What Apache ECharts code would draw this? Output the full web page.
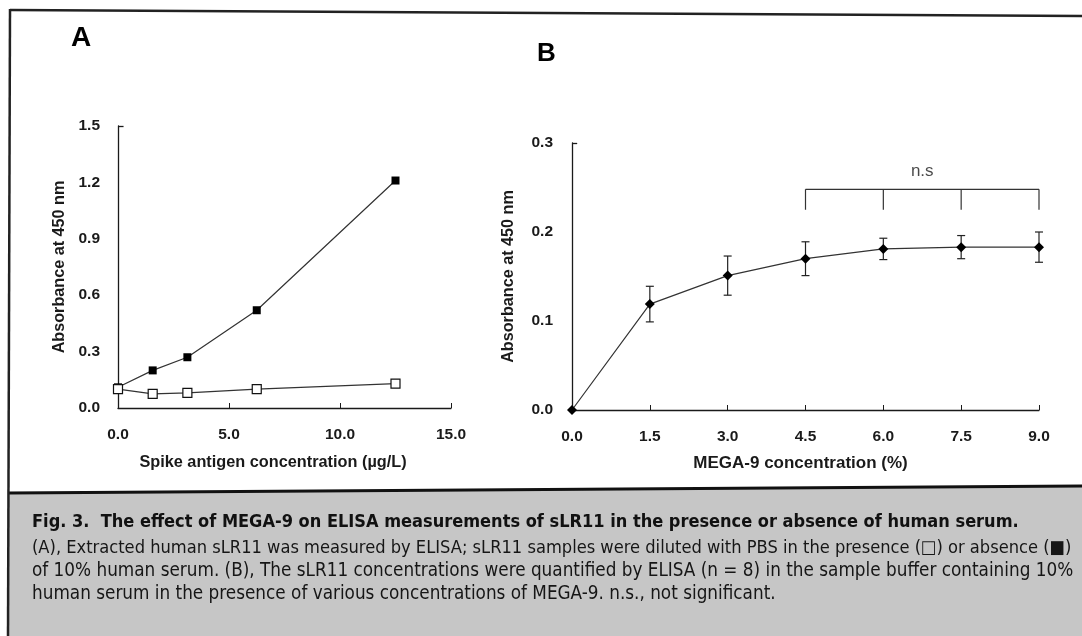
<!DOCTYPE html>
<html>
<head>
<meta charset="utf-8">
<script src="https://cdn.jsdelivr.net/npm/echarts@6/dist/echarts.min.js"></script>
<style>
html,body{margin:0;padding:0;background:#fff;}
#fig{width:1082px;height:636px;}
</style>
</head>
<body>
<div id="fig"></div>
<script>
// panel A: spike antigen dilutions
var spikeConc = [0, 1.5625, 3.125, 6.25, 12.5];
var absentSerum = [0.11, 0.20, 0.27, 0.52, 1.21];   // filled squares
var presentSerum = [0.10, 0.075, 0.08, 0.10, 0.13]; // open squares
var xTicksA = [0, 5, 10, 15];
var yTicksA = [0, 0.3, 0.6, 0.9, 1.2, 1.5];

// panel B: MEGA-9 concentration, mean +/- sd
var megaConc = [0, 1.5, 3.0, 4.5, 6.0, 7.5, 9.0];
var megaMean = [0, 0.119, 0.151, 0.170, 0.181, 0.183, 0.183];
var megaSd = [0, 0.020, 0.022, 0.019, 0.012, 0.013, 0.017];
var xTicksB = [0, 1.5, 3.0, 4.5, 6.0, 7.5, 9.0];
var yTicksB = [0, 0.1, 0.2, 0.3];

// n.s bracket
var nsGroup = [4.5, 6.0, 7.5, 9.0];
var nsTop = 0.248;
var nsFoot = 0.225;
var nsLabel = [6.75, 0.268];

var captionTitle = 'Fig. 3.  The effect of MEGA-9 on ELISA measurements of sLR11 in the presence or absence of human serum.';
var captionLines = [
    '(A), Extracted human sLR11 was measured by ELISA; sLR11 samples were diluted with PBS in the presence (\u25A1) or absence (\u25A0)',
    'of 10% human serum. (B), The sLR11 concentrations were quantified by ELISA (n = 8) in the sample buffer containing 10%',
    'human serum in the presence of various concentrations of MEGA-9. n.s., not significant.'
];

var ink = '#1a1a1a';
var axisFont = 'Liberation Sans, Arial, sans-serif';
var capFont = "'Liberation Sans Narrow', 'DejaVu Sans Condensed', 'Arial Narrow', sans-serif";

// size a caption line so it spans the given width
var mctx = document.createElement('canvas').getContext('2d');
function fitSize(text, weight, width) {
    mctx.font = weight + ' 20px ' + capFont;
    return 20 * width / mctx.measureText(text).width;
}

function pairs(xs, ys) {
    return xs.map(function (x, i) { return [x, ys[i]]; });
}

var errData = [];
for (var i = 0; i < megaConc.length; i++) {
    if (megaSd[i] > 0) {
        errData.push([megaConc[i], megaMean[i] - megaSd[i], megaMean[i] + megaSd[i]]);
    }
}

function tickLabel(margin) {
    return {
        color: ink, fontFamily: axisFont, fontWeight: 'bold', fontSize: 15.5, margin: margin,
        formatter: function (v) { return v.toFixed(1); }
    };
}

function valueAxis(ticks, gridIndex, extra) {
    var ax = {
        type: 'value',
        gridIndex: gridIndex,
        min: ticks[0],
        max: ticks[ticks.length - 1],
        interval: ticks[1] - ticks[0],
        splitLine: {show: false},
        axisLine: {show: true, onZero: false, lineStyle: {color: ink, width: 1.3}}
    };
    for (var k in extra) ax[k] = extra[k];
    return ax;
}

var titleSize = fitSize(captionTitle, 'bold', 987);
var lineSize1 = fitSize(captionLines[0], 'normal', 1040);
var lineSize2 = fitSize(captionLines[1], 'normal', 1042);

var chart = echarts.init(document.getElementById('fig'));
option = {
    backgroundColor: '#ffffff',
    animation: false,
    grid: [
        {left: 118, top: 126, width: 333, height: 282},
        {left: 572, top: 143, width: 467, height: 267}
    ],
    xAxis: [
        valueAxis(xTicksA, 0, {
            axisTick: {show: true, inside: true, length: 5, lineStyle: {color: ink}},
            axisLabel: tickLabel(19),
            name: 'Spike antigen concentration (\u00B5g/L)',
            nameLocation: 'middle',
            nameGap: 47,
            nameTextStyle: {color: ink, fontFamily: axisFont, fontWeight: 'bold', fontSize: 16.3, padding: [0, 23, 0, 0]}
        }),
        valueAxis(xTicksB, 1, {
            axisTick: {show: true, inside: true, length: 5, lineStyle: {color: ink}},
            axisLabel: tickLabel(19),
            name: 'MEGA-9 concentration (%)',
            nameLocation: 'middle',
            nameGap: 45,
            nameTextStyle: {color: ink, fontFamily: axisFont, fontWeight: 'bold', fontSize: 17, padding: [0, 10, 0, 0]}
        })
    ],
    yAxis: [
        valueAxis(yTicksA, 0, {
            axisTick: {show: false},
            axisLabel: tickLabel(18),
            name: 'Absorbance at 450 nm',
            nameLocation: 'middle',
            nameGap: 50,
            nameTextStyle: {color: ink, fontFamily: axisFont, fontWeight: 'bold', fontSize: 16.2}
        }),
        valueAxis(yTicksB, 1, {
            axisTick: {show: false},
            axisLabel: tickLabel(19),
            name: 'Absorbance at 450 nm',
            nameLocation: 'middle',
            nameGap: 55,
            nameTextStyle: {color: ink, fontFamily: axisFont, fontWeight: 'bold', fontSize: 16.2}
        })
    ],
    series: [
        {
            name: 'absence',
            type: 'line',
            xAxisIndex: 0, yAxisIndex: 0,
            data: pairs(spikeConc, absentSerum),
            symbol: 'rect', symbolSize: 8,
            itemStyle: {color: '#000'},
            lineStyle: {color: '#333', width: 1.2},
            z: 3,
            markLine: {
                silent: true, symbol: 'none', label: {show: false},
                lineStyle: {color: ink, width: 1.3, type: 'solid'},
                data: [[{coord: [0, 1.5]}, {coord: [0.25, 1.5]}]]
            }
        },
        {
            name: 'presence',
            type: 'line',
            xAxisIndex: 0, yAxisIndex: 0,
            data: pairs(spikeConc, presentSerum),
            symbol: 'rect', symbolSize: 9,
            itemStyle: {color: '#fff', borderColor: '#111', borderWidth: 1.2},
            lineStyle: {color: '#333', width: 1.2},
            z: 4
        },
        {
            name: 'sd',
            type: 'custom',
            xAxisIndex: 1, yAxisIndex: 1,
            data: errData,
            z: 2,
            renderItem: function (params, api) {
                var hi = api.coord([api.value(0), api.value(2)]);
                var lo = api.coord([api.value(0), api.value(1)]);
                var w = 4;
                var st = {stroke: '#222', lineWidth: 1.2};
                return {type: 'group', children: [
                    {type: 'line', shape: {x1: hi[0], y1: hi[1], x2: lo[0], y2: lo[1]}, style: st},
                    {type: 'line', shape: {x1: hi[0] - w, y1: hi[1], x2: hi[0] + w, y2: hi[1]}, style: st},
                    {type: 'line', shape: {x1: lo[0] - w, y1: lo[1], x2: lo[0] + w, y2: lo[1]}, style: st}
                ]};
            }
        },
        {
            name: 'mean',
            type: 'line',
            xAxisIndex: 1, yAxisIndex: 1,
            data: pairs(megaConc, megaMean),
            symbol: 'diamond', symbolSize: 10,
            itemStyle: {color: '#000'},
            lineStyle: {color: '#333', width: 1.2},
            z: 4,
            markLine: {
                silent: true, symbol: 'none', label: {show: false},
                lineStyle: {color: ink, width: 1.3, type: 'solid'},
                data: [[{coord: [0, 0.3]}, {coord: [0.1, 0.3]}]]
            }
        },
        {
            name: 'bracket',
            type: 'line',
            xAxisIndex: 1, yAxisIndex: 1,
            data: [[nsGroup[0], nsTop], [nsGroup[nsGroup.length - 1], nsTop]],
            symbol: 'none',
            lineStyle: {color: '#333', width: 1.2}
        },
        {
            name: 'bracketFeet',
            type: 'custom',
            xAxisIndex: 1, yAxisIndex: 1,
            data: nsGroup.map(function (x) { return [x, nsTop, nsFoot]; }),
            renderItem: function (params, api) {
                var a = api.coord([api.value(0), api.value(1)]);
                var b = api.coord([api.value(0), api.value(2)]);
                return {type: 'line', shape: {x1: a[0], y1: a[1], x2: b[0], y2: b[1]},
                    style: {stroke: '#333', lineWidth: 1.2}};
            }
        },
        {
            name: 'ns',
            type: 'scatter',
            xAxisIndex: 1, yAxisIndex: 1,
            data: [nsLabel],
            symbolSize: 0,
            label: {show: true, position: 'inside', formatter: 'n.s',
                color: ink, fontFamily: axisFont, fontSize: 17}
        }
    ],
    graphic: [
        // frame
        {type: 'line', shape: {x1: 10, y1: 10, x2: 1082, y2: 16}, style: {stroke: '#222', lineWidth: 2.5}, z: 10},
        {type: 'polygon', shape: {points: [[9, 493], [1082, 486], [1082, 636], [9, 636]]}, style: {fill: '#c6c6c6'}, z: 1},
        {type: 'line', shape: {x1: 9, y1: 493, x2: 1082, y2: 486}, style: {stroke: '#111', lineWidth: 3}, z: 10},
        {type: 'line', shape: {x1: 10, y1: 9, x2: 8, y2: 636}, style: {stroke: '#222', lineWidth: 2.5}, z: 10},
        // panel letters
        {type: 'text', left: 71, top: 24, style: {text: 'A', fill: '#000', font: 'bold 28px ' + axisFont}},
        {type: 'text', left: 537, top: 41, style: {text: 'B', fill: '#000', font: 'bold 26px ' + axisFont}},
        // caption
        {type: 'text', x: 32, y: 522, z: 11, style: {text: captionTitle, fill: '#111', verticalAlign: 'middle',
            font: 'bold ' + titleSize.toFixed(2) + 'px ' + capFont}},
        {type: 'text', x: 32, y: 548, z: 11, style: {text: captionLines[0], fill: '#161616', verticalAlign: 'middle',
            font: lineSize1.toFixed(2) + 'px ' + capFont}},
        {type: 'text', x: 32, y: 571, z: 11, style: {text: captionLines[1], fill: '#161616', verticalAlign: 'middle',
            font: lineSize2.toFixed(2) + 'px ' + capFont}},
        {type: 'text', x: 32, y: 594, z: 11, style: {text: captionLines[2], fill: '#161616', verticalAlign: 'middle',
            font: lineSize2.toFixed(2) + 'px ' + capFont}}
    ]
};
chart.setOption(option);
</script>
</body>
</html>
